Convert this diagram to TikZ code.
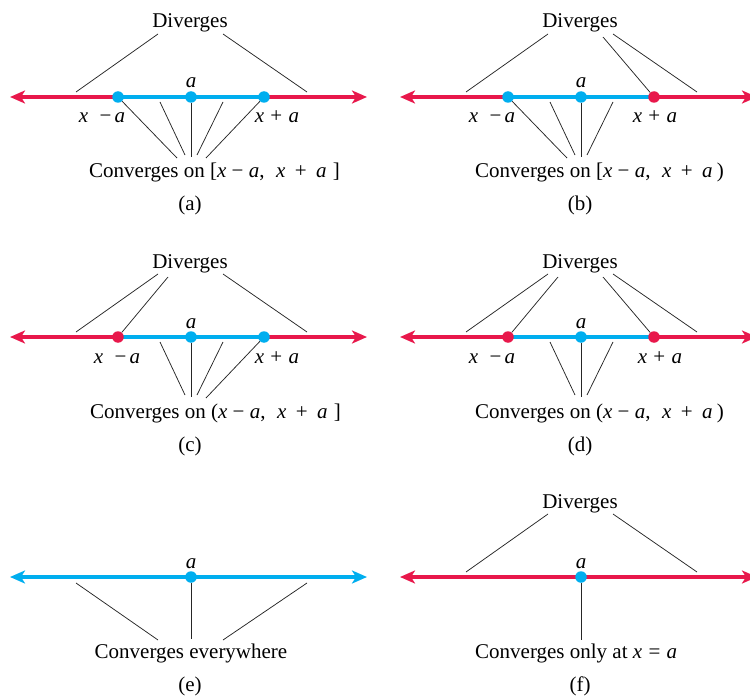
\documentclass[tikz,border=0pt]{standalone}
\usepackage{fontspec}
\setmainfont{Liberation Serif}
\usetikzlibrary{arrows.meta,backgrounds}
\definecolor{divred}{RGB}{232,24,75}
\definecolor{convblue}{RGB}{0,174,239}
\tikzset{
  axis/.style={line width=3.6pt, {Stealth[length=15pt,width=13pt,inset=4pt]}-{Stealth[length=15pt,width=13pt,inset=4pt]}},
  seg/.style={line width=3.6pt, convblue},
  dotb/.style={circle, fill=convblue, inner sep=0pt, minimum size=11.5pt},
  dotr/.style={circle, fill=divred, inner sep=0pt, minimum size=11.5pt},
  thin line/.style={line width=0.75pt, black!85},
  txt/.style={inner sep=0pt, font=\fontsize{21}{25}\selectfont},
}
\newcommand{\xma}{\textit{x}\hspace{0.55em}−\hspace{0.15em}\textit{a}}
\newcommand{\xpa}{\textit{x}\hspace{0.3em}+\hspace{0.3em}\textit{a}}
\newcommand{\intv}{\textit{x}\hspace{0.25em}−\hspace{0.25em}\textit{a},\hspace{0.55em}\textit{x}\hspace{0.45em}+\hspace{0.45em}\textit{a}}
\begin{document}
\begin{tikzpicture}[x=1pt,y=-1pt]
\clip (0,0) rectangle (750,698);
% ===================== (a) =====================
\begin{scope}[shift={(0,0)}]
  \coordinate (aL) at (10,97); \coordinate (aR) at (367,97);
  \node[dotb] (a1) at (118,97) {};
  \node[dotb] (a2) at (191,97) {};
  \node[dotb] (a3) at (264,97) {};
  \begin{pgfonlayer}{background}
    \draw[axis, divred] (aL) -- (aR);
    \draw[seg] (a1.center) -- (a3.center);
  \end{pgfonlayer}
  \node[txt, anchor=base] (adiv) at (190,28) {Diverges};
  \node[txt, anchor=base] (aa) at (191,88) {\textit{a}};
  \node[txt, anchor=base] (axm) at (102,123) {\xma};
  \node[txt, anchor=base] (axp) at (277,123) {\xpa};
  \node[txt, anchor=base west] (aconv) at (89,178) {Converges on [\intv\hspace{0.3em}]};
  \node[txt, anchor=base] (alab) at (190,211) {(a)};
  \coordinate (adL) at (158,34); \coordinate (adR) at (223,34);
  \coordinate (aeL) at (76,92); \coordinate (aeR) at (307,92);
  \draw[thin line] (adL) -- (aeL);
  \draw[thin line] (adR) -- (aeR);
  \coordinate (ac1) at (177,158); \coordinate (ac2) at (185,155);
  \coordinate (ac3) at (191,157); \coordinate (ac4) at (197,155);
  \coordinate (ac5) at (206,158);
  \coordinate (at2) at (160,102); \coordinate (at4) at (223,102);
  \draw[thin line] (a1) -- (ac1);
  \draw[thin line] (at2) -- (ac2);
  \draw[thin line] (a2) -- (ac3);
  \draw[thin line] (at4) -- (ac4);
  \draw[thin line] (a3) -- (ac5);
\end{scope}
% ===================== (b) =====================
\begin{scope}[shift={(390,0)}]
  \coordinate (bL) at (10,97); \coordinate (bR) at (367,97);
  \node[dotb] (b1) at (118,97) {};
  \node[dotb] (b2) at (191,97) {};
  \node[dotr] (b3) at (264,97) {};
  \begin{pgfonlayer}{background}
    \draw[axis, divred] (bL) -- (bR);
    \draw[seg] (b1.center) -- (b3.center);
  \end{pgfonlayer}
  \node[txt, anchor=base] (bdiv) at (190,28) {Diverges};
  \node[txt, anchor=base] (ba) at (191,88) {\textit{a}};
  \node[txt, anchor=base] (bxm) at (102,123) {\xma};
  \node[txt, anchor=base] (bxp) at (265,123) {\xpa};
  \node[txt, anchor=base west] (bconv) at (85,178) {Converges on [\intv\hspace{0.2em})};
  \node[txt, anchor=base] (blab) at (190,211) {(b)};
  \coordinate (bdL) at (158,34); \coordinate (bdR2) at (213,37); \coordinate (bdR) at (223,34);
  \coordinate (beL) at (76,92); \coordinate (beR) at (307,92);
  \draw[thin line] (bdL) -- (beL);
  \draw[thin line] (bdR2) -- (b3);
  \draw[thin line] (bdR) -- (beR);
  \coordinate (bc1) at (177,158); \coordinate (bc2) at (185,155);
  \coordinate (bc3) at (191,157); \coordinate (bc4) at (197,155);
  \coordinate (bt2) at (160,102); \coordinate (bt4) at (223,102);
  \draw[thin line] (b1) -- (bc1);
  \draw[thin line] (bt2) -- (bc2);
  \draw[thin line] (b2) -- (bc3);
  \draw[thin line] (bt4) -- (bc4);
\end{scope}
% ===================== (c) =====================
\begin{scope}[shift={(0,240)}]
  \coordinate (cL) at (10,97); \coordinate (cR) at (367,97);
  \node[dotr] (c1) at (118,97) {};
  \node[dotb] (c2) at (191,97) {};
  \node[dotb] (c3) at (264,97) {};
  \begin{pgfonlayer}{background}
    \draw[axis, divred] (cL) -- (cR);
    \draw[seg] (c1.center) -- (c3.center);
  \end{pgfonlayer}
  \node[txt, anchor=base] (cdiv) at (190,28) {Diverges};
  \node[txt, anchor=base] (ca) at (191,88) {\textit{a}};
  \node[txt, anchor=base] (cxm) at (117,123) {\xma};
  \node[txt, anchor=base] (cxp) at (277,123) {\xpa};
  \node[txt, anchor=base west] (cconv) at (90,178) {Converges on (\intv\hspace{0.3em}]};
  \node[txt, anchor=base] (clab) at (190,211) {(c)};
  \coordinate (cdL) at (158,34); \coordinate (cdL2) at (168,37); \coordinate (cdR) at (223,34);
  \coordinate (ceL) at (76,92); \coordinate (ceR) at (307,92);
  \draw[thin line] (cdL) -- (ceL);
  \draw[thin line] (cdL2) -- (c1);
  \draw[thin line] (cdR) -- (ceR);
  \coordinate (cc2) at (185,155); \coordinate (cc3) at (191,157);
  \coordinate (cc4) at (197,155); \coordinate (cc5) at (206,158);
  \coordinate (ct2) at (160,102); \coordinate (ct4) at (223,102);
  \draw[thin line] (ct2) -- (cc2);
  \draw[thin line] (c2) -- (cc3);
  \draw[thin line] (ct4) -- (cc4);
  \draw[thin line] (c3) -- (cc5);
\end{scope}
% ===================== (d) =====================
\begin{scope}[shift={(390,240)}]
  \coordinate (dL) at (10,97); \coordinate (dR) at (367,97);
  \node[dotr] (d1) at (118,97) {};
  \node[dotb] (d2) at (191,97) {};
  \node[dotr] (d3) at (264,97) {};
  \begin{pgfonlayer}{background}
    \draw[axis, divred] (dL) -- (dR);
    \draw[seg] (d1.center) -- (d3.center);
  \end{pgfonlayer}
  \node[txt, anchor=base] (ddiv) at (190,28) {Diverges};
  \node[txt, anchor=base] (da) at (191,88) {\textit{a}};
  \node[txt, anchor=base] (dxm) at (102,123) {\xma};
  \node[txt, anchor=base] (dxp) at (270,123) {\xpa};
  \node[txt, anchor=base west] (dconv) at (85,178) {Converges on (\intv\hspace{0.2em})};
  \node[txt, anchor=base] (dlab) at (190,211) {(d)};
  \coordinate (ddL) at (158,34); \coordinate (ddL2) at (168,37);
  \coordinate (ddR2) at (213,37); \coordinate (ddR) at (223,34);
  \coordinate (deL) at (76,92); \coordinate (deR) at (307,92);
  \draw[thin line] (ddL) -- (deL);
  \draw[thin line] (ddL2) -- (d1);
  \draw[thin line] (ddR2) -- (d3);
  \draw[thin line] (ddR) -- (deR);
  \coordinate (dc2) at (185,155); \coordinate (dc3) at (191,157);
  \coordinate (dc4) at (197,155);
  \coordinate (dt2) at (160,102); \coordinate (dt4) at (223,102);
  \draw[thin line] (dt2) -- (dc2);
  \draw[thin line] (d2) -- (dc3);
  \draw[thin line] (dt4) -- (dc4);
\end{scope}
% ===================== (e) =====================
\begin{scope}[shift={(0,480)}]
  \coordinate (eL) at (10,97); \coordinate (eR) at (367,97);
  \node[dotb] (e2) at (191,97) {};
  \begin{pgfonlayer}{background}
    \draw[axis, convblue] (eL) -- (eR);
  \end{pgfonlayer}
  \node[txt, anchor=base] (ea) at (191,88) {\textit{a}};
  \node[txt, anchor=base] (econv) at (191,178) {Converges everywhere};
  \node[txt, anchor=base] (elab) at (190,211) {(e)};
  \coordinate (etL) at (76,103); \coordinate (etR) at (307,103);
  \coordinate (ebL) at (158,160); \coordinate (ebM) at (191,159); \coordinate (ebR) at (223,160);
  \draw[thin line] (etL) -- (ebL);
  \draw[thin line] (e2) -- (ebM);
  \draw[thin line] (etR) -- (ebR);
\end{scope}
% ===================== (f) =====================
\begin{scope}[shift={(390,480)}]
  \coordinate (fL) at (10,97); \coordinate (fR) at (367,97);
  \node[dotb] (f2) at (191,97) {};
  \begin{pgfonlayer}{background}
    \draw[axis, divred] (fL) -- (fR);
  \end{pgfonlayer}
  \node[txt, anchor=base] (fdiv) at (190,28) {Diverges};
  \node[txt, anchor=base] (fa) at (191,88) {\textit{a}};
  \node[txt, anchor=base west] (fconv) at (85,178) {Converges only at \textit{x}\hspace{0.3em}=\hspace{0.3em}\textit{a}};
  \node[txt, anchor=base] (flab) at (190,211) {(f)};
  \coordinate (fdL) at (158,34); \coordinate (fdR) at (223,34);
  \coordinate (feL) at (76,92); \coordinate (feR) at (307,92);
  \draw[thin line] (fdL) -- (feL);
  \draw[thin line] (fdR) -- (feR);
  \coordinate (fbM) at (191,160);
  \draw[thin line] (f2) -- (fbM);
\end{scope}
\end{tikzpicture}
\end{document}
